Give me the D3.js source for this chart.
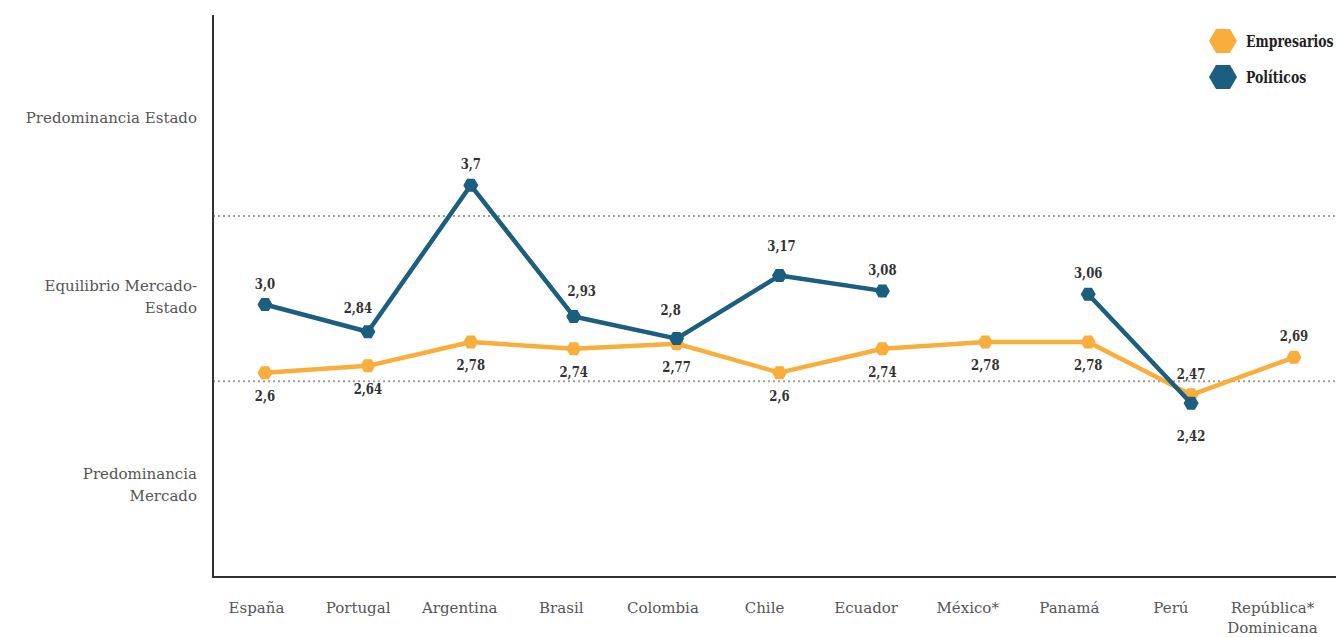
<!DOCTYPE html>
<html>
<head>
<meta charset="utf-8">
<script src="https://cdn.jsdelivr.net/npm/d3@7"></script>
<style>
  body { margin: 0; background: #fff; }
  .axislabel { font-family: "DejaVu Serif", serif; font-size: 15px; fill: #555; }
  .val { font-family: "DejaVu Serif", serif; font-weight: bold; font-size: 15px; fill: #333; }
  .legend text { font-family: "DejaVu Serif", serif; font-weight: bold; font-size: 16px; fill: #222; }
</style>
</head>
<body>
<svg id="svg1" width="1336" height="637"></svg>
<script>
const countries = ["España", "Portugal", "Argentina", "Brasil", "Colombia", "Chile", "Ecuador", "México*", "Panamá", "Perú", "República*\nDominicana"];
const empresarios = [2.6, 2.64, 2.78, 2.74, 2.77, 2.6, 2.74, 2.78, 2.78, 2.47, 2.69];
const politicos = [3.0, 2.84, 3.7, 2.93, 2.8, 3.17, 3.08, null, 3.06, 2.42, null];
const empLabels = ["2,6", "2,64", "2,78", "2,74", "2,77", "2,6", "2,74", "2,78", "2,78", "2,47", "2,69"];
const polLabels = ["3,0", "2,84", "3,7", "2,93", "2,8", "3,17", "3,08", null, "3,06", "2,42", null];
const yCategories = ["Predominancia Estado", "Equilibrio Mercado-\nEstado", "Predominancia\nMercado"];
const yCategoryValues = [4.07, 3.015, 1.915];
const bandLines = [3.52, 2.55];
const seriesNames = ["Empresarios", "Políticos"];

const colors = { "Empresarios": "#f9ae3b", "Políticos": "#1b5e7f" };
// small label nudges so labels clear the lines
const nudge = { "Políticos|Portugal": [-10, -3], "Políticos|Brasil": [8, -4], "Políticos|Colombia": [-6, -8], "Políticos|Chile": [2, -9] };

const svg = d3.select("svg#svg1");
const width = +svg.attr("width");
const height = +svg.attr("height");
const margin = { top: 15, right: 0, bottom: 60, left: 213 };

const y = d3.scaleLinear().domain([1.4, 4.7]).range([height - margin.bottom, margin.top]);
const x = d3.scalePoint().domain(countries).range([265, 1294]);
const xLabel = d3.scalePoint().domain(countries).range([256, 1272]);

// dotted band lines
svg.append("g").selectAll("line").data(bandLines).join("line")
  .attr("x1", margin.left).attr("x2", width)
  .attr("y1", d => y(d)).attr("y2", d => y(d))
  .attr("stroke", "#a0a0a0").attr("stroke-width", 2).attr("stroke-dasharray", "2,3");

// frame
svg.append("line").attr("x1", margin.left).attr("x2", margin.left)
  .attr("y1", margin.top).attr("y2", height - margin.bottom)
  .attr("stroke", "#333").attr("stroke-width", 2);
svg.append("line").attr("x1", margin.left - 1).attr("x2", width)
  .attr("y1", height - margin.bottom).attr("y2", height - margin.bottom)
  .attr("stroke", "#333").attr("stroke-width", 2);

function wrapLines(sel, lh, center) {
  sel.each(function () {
    const t = d3.select(this);
    const parts = t.text().split("\n");
    const x0 = t.attr("x") || 0;
    t.text(null);
    const off = center ? -(parts.length - 1) * lh / 2 : 0;
    parts.forEach((p, i) => {
      t.append("tspan").attr("x", x0).attr("dy", i === 0 ? off : lh).text(p);
    });
  });
}

// y axis categories
const yAxis = d3.axisLeft(y).tickValues(yCategoryValues)
  .tickFormat((d, i) => yCategories[i]).tickSize(0).tickPadding(16);
const gy = svg.append("g").attr("transform", `translate(${margin.left},0)`).call(yAxis);
gy.select(".domain").remove();
gy.selectAll("text").attr("class", "axislabel").attr("dy", "0.35em").call(wrapLines, 22, true);

// x axis
const xAxis = d3.axisBottom(xLabel).tickSize(0).tickPadding(36);
const gx = svg.append("g").attr("transform", `translate(0,${height - margin.bottom})`).call(xAxis);
gx.select(".domain").remove();
gx.selectAll("text").attr("class", "axislabel").call(wrapLines, 20, false);

// hexagon marker
function hexPath(w, h) {
  const pts = [[-w / 2, 0], [-w / 4, -h / 2], [w / 4, -h / 2], [w / 2, 0], [w / 4, h / 2], [-w / 4, h / 2]];
  return d3.line()(pts) + "Z";
}

const series = [
  { name: "Empresarios", values: empresarios, labels: empLabels },
  { name: "Políticos", values: politicos, labels: polLabels }
];

const line = d3.line()
  .defined(d => d.v != null)
  .x(d => x(d.c))
  .y(d => y(d.v));

const g = svg.append("g").selectAll("g").data(series).join("g");
g.append("path")
  .attr("d", s => line(countries.map((c, i) => ({ c, v: s.values[i] }))))
  .attr("fill", "none")
  .attr("stroke", s => colors[s.name])
  .attr("stroke-width", 4.5)
  .attr("stroke-linejoin", "round");

g.selectAll("path.mk")
  .data(s => countries.map((c, i) => ({ c, v: s.values[i], name: s.name })).filter(d => d.v != null))
  .join("path").attr("class", "mk")
  .attr("d", hexPath(15, 13))
  .attr("transform", d => `translate(${x(d.c)},${y(d.v)})`)
  .attr("fill", d => colors[d.name]);

// value labels (condensed look via horizontal squeeze)
function labelAbove(name, i) {
  const e = empresarios[i], p = politicos[i];
  if (name === "Políticos") return !(p < e);
  return p == null ? i === countries.length - 1 : p < e;
}
g.selectAll("text.val")
  .data(s => countries.map((c, i) => ({ c, i, v: s.values[i], lab: s.labels[i], name: s.name })).filter(d => d.v != null))
  .join("text").attr("class", "val")
  .attr("text-anchor", "middle")
  .attr("transform", d => {
    const dy = labelAbove(d.name, d.i) ? -16 : (d.name === "Políticos" ? 38 : 28);
    const n = nudge[d.name + "|" + d.c] || [0, 0];
    return `translate(${x(d.c) + n[0]},${y(d.v) + dy + n[1]}) scale(0.78,1)`;
  })
  .text(d => d.lab);

// legend
const legend = svg.append("g").attr("class", "legend")
  .attr("transform", "translate(1223,41)");
const li = legend.selectAll("g").data(seriesNames).join("g")
  .attr("transform", (d, i) => `translate(0,${i * 36})`);
li.append("path").attr("d", hexPath(28, 24)).attr("fill", d => colors[d]);
li.append("text").attr("transform", "translate(23,0) scale(0.78,1)").attr("dy", "0.35em").text(d => d);
</script>
</body>
</html>
